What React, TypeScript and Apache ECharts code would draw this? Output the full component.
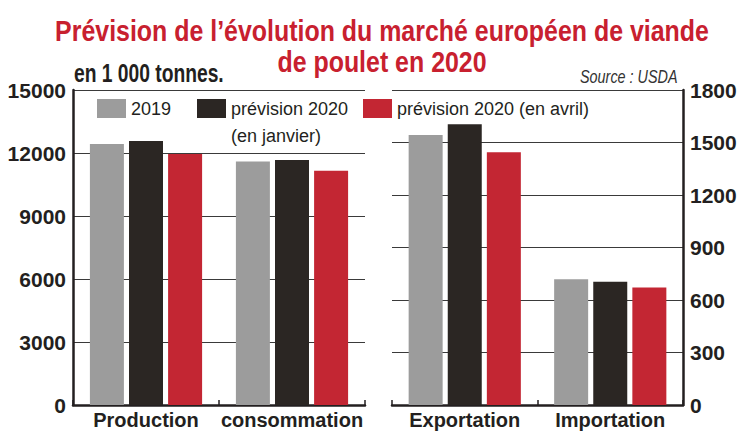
import React, { useEffect, useRef } from "react";
import * as echarts from "echarts";

const categoriesLeft = ["Production", "consommation"];
const categoriesRight = ["Exportation", "Importation"];
const seriesNames = ["2019", "prévision 2020 (en janvier)", "prévision 2020 (en avril)"];
const values2019Left = [12430, 11600];
const valuesJanLeft = [12570, 11670];
const valuesAprLeft = [11950, 11160];
const values2019Right = [1543, 718];
const valuesJanRight = [1604, 705];
const valuesAprRight = [1444, 672];
const leftAxisMax = 15000;
const leftAxisStep = 3000;
const rightAxisMax = 1800;
const rightAxisStep = 300;
const titleText = "Prévision de l’évolution du marché européen de viande\nde poulet en 2020";
const unitText = "en 1 000 tonnes.";
const sourceText = "Source : USDA";

const FONT = "'Liberation Sans', Arial, sans-serif";
const COLORS = ["#9c9c9c", "#2b2623", "#c32633"];
const INK = "#231f20";

export default function App() {
  const ref = useRef<HTMLDivElement>(null);
  useEffect(() => {
    if (!ref.current) return;
    const chart = echarts.init(ref.current, undefined, { renderer: "svg" });
    const barCommon = { type: "bar", barWidth: 34, barGap: "15%" };
    const xAxisCommon = {
      type: "category",
      axisLine: { show: true, lineStyle: { color: INK, width: 2.5 } },
      axisTick: { show: true, inside: true, length: 5, lineStyle: { color: INK, width: 1.5 } },
      axisLabel: { interval: 0, fontFamily: FONT, fontWeight: "bold", fontSize: 20, color: INK, margin: 5 },
    };
    const yAxisCommon = {
      type: "value",
      min: 0,
      axisLine: { show: true, lineStyle: { color: INK, width: 2.5 } },
      axisTick: { show: false },
      splitLine: { show: true, lineStyle: { color: "#3a3a3a", width: 1 } },
      axisLabel: {
        fontFamily: FONT,
        fontWeight: "bold",
        fontSize: 21,
        color: INK,
        margin: 7,
        formatter: (v: number) => String(v),
      },
    };
    const legendCommon = {
      padding: 0,
      itemWidth: 29,
      itemHeight: 19,
      icon: "rect",
      selectedMode: false,
      textStyle: { fontFamily: FONT, fontSize: 18, color: INK, lineHeight: 19 },
    };
    chart.setOption({
      animation: false,
      backgroundColor: "#ffffff",
      color: COLORS,
      grid: [
        { left: 73, right: 747 - 365, top: 90, bottom: 441 - 405, containLabel: false },
        { left: 392, right: 747 - 683, top: 90, bottom: 441 - 405, containLabel: false },
      ],
      xAxis: [
        { ...xAxisCommon, gridIndex: 0, data: categoriesLeft },
        { ...xAxisCommon, gridIndex: 1, data: categoriesRight },
      ],
      yAxis: [
        { ...yAxisCommon, gridIndex: 0, position: "left", max: leftAxisMax, interval: leftAxisStep },
        { ...yAxisCommon, gridIndex: 1, position: "right", max: rightAxisMax, interval: rightAxisStep },
      ],
      legend: [
        { ...legendCommon, data: [seriesNames[0]], left: 97, top: 99 },
        {
          ...legendCommon,
          data: [seriesNames[1]],
          left: 197,
          top: 68,
          formatter: () => "\nprévision 2020\n(en janvier)",
          textStyle: { ...legendCommon.textStyle, lineHeight: 27 },
        },
        { ...legendCommon, data: [seriesNames[2]], left: 363, top: 99 },
      ],
      graphic: [
        {
          type: "text",
          x: 382,
          y: 47,
          scaleX: 0.86,
          style: {
            text: titleText,
            textAlign: "center",
            textVerticalAlign: "middle",
            fontFamily: FONT,
            fontWeight: "bold",
            fontSize: 29,
            lineHeight: 31,
            fill: "#c8202f",
          },
        },
        {
          type: "text",
          x: 74,
          y: 74,
          scaleX: 0.77,
          style: {
            text: unitText,
            textVerticalAlign: "middle",
            fontFamily: FONT,
            fontWeight: "bold",
            fontSize: 25,
            fill: INK,
          },
        },
        {
          type: "text",
          x: 580,
          y: 76,
          scaleX: 0.8,
          style: {
            text: sourceText,
            textVerticalAlign: "middle",
            fontFamily: FONT,
            fontStyle: "italic",
            fontSize: 18,
            fill: "#333333",
          },
        },
      ],
      series: [
        { ...barCommon, name: seriesNames[0], xAxisIndex: 0, yAxisIndex: 0, data: values2019Left },
        { ...barCommon, name: seriesNames[1], xAxisIndex: 0, yAxisIndex: 0, data: valuesJanLeft },
        { ...barCommon, name: seriesNames[2], xAxisIndex: 0, yAxisIndex: 0, data: valuesAprLeft },
        { ...barCommon, name: seriesNames[0], xAxisIndex: 1, yAxisIndex: 1, data: values2019Right },
        { ...barCommon, name: seriesNames[1], xAxisIndex: 1, yAxisIndex: 1, data: valuesJanRight },
        { ...barCommon, name: seriesNames[2], xAxisIndex: 1, yAxisIndex: 1, data: valuesAprRight },
      ],
    });
    return () => chart.dispose();
  }, []);
  return (
    <div
      ref={ref}
      style={{ position: "fixed", left: 0, top: 0, width: 747, height: 441, background: "#fff" }}
    />
  );
}
